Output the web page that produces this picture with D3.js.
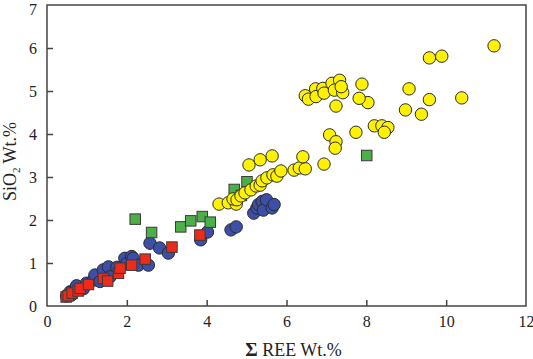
<!DOCTYPE html>
<html>
<head>
<meta charset="utf-8">
<script src="https://cdn.jsdelivr.net/npm/d3@7"></script>
<style>
  body { margin: 0; background: #fff; }
  svg { display: block; font-family: 'Liberation Serif', 'Times New Roman', serif; }
</style>
</head>
<body>
<div id="chart"></div>
<script>
// sum REE (x) vs SiO2 (y)
const blueX = [0.49, 0.58, 0.62, 0.66, 0.74, 0.91, 0.99, 1.16, 1.2, 1.33, 1.41, 1.54, 1.58, 1.75, 1.95, 2.0, 2.12, 2.16, 2.29, 2.54, 2.58, 2.82, 3.04, 3.85, 4.02, 4.61, 4.74, 5.18, 5.26, 5.3, 5.39, 5.42, 5.5, 5.64, 5.69]
const blueY = [0.23, 0.33, 0.26, 0.33, 0.47, 0.4, 0.53, 0.6, 0.72, 0.57, 0.84, 0.91, 0.68, 0.9, 1.11, 0.99, 1.15, 1.11, 0.95, 0.95, 1.46, 1.35, 1.23, 1.54, 1.72, 1.77, 1.84, 2.16, 2.28, 2.36, 2.43, 2.23, 2.47, 2.28, 2.36]

const greenX = [2.21, 2.62, 3.35, 3.6, 3.89, 4.09, 4.69, 5.01, 4.87, 8.01]
const greenY = [2.02, 1.71, 1.84, 1.98, 2.08, 1.95, 2.71, 2.89, 2.57, 3.5]

const yellowX = [4.31, 4.54, 4.74, 4.66, 4.76, 4.86, 4.96, 5.11, 5.24, 5.34, 5.39, 5.51, 5.66, 5.76, 5.86, 5.06, 5.34, 5.64, 6.19, 6.32, 6.47, 6.41, 6.94,
  7.08, 7.24, 7.22, 7.74, 8.2, 8.39, 8.54, 8.45, 8.04, 7.82, 7.89, 7.24,
  6.47, 6.55, 6.73, 6.74, 6.91, 6.94, 7.14, 7.33, 7.2, 7.41, 7.37,
  8.98, 9.07, 9.38, 9.58, 10.39, 9.58, 9.89, 11.2]
const yellowY = [2.37, 2.4, 2.37, 2.49, 2.47, 2.56, 2.63, 2.7, 2.79, 2.81, 2.91, 2.98, 3.05, 3.02, 3.14, 3.28, 3.4, 3.49, 3.16, 3.21, 3.19, 3.47, 3.3,
  3.98, 3.82, 3.67, 4.04, 4.19, 4.19, 4.15, 4.04, 4.73, 4.83, 5.16, 4.65,
  4.89, 4.81, 5.05, 4.87, 5.06, 4.95, 5.18, 5.25, 5.02, 4.96, 5.1,
  4.56, 5.05, 4.46, 4.8, 4.84, 5.77, 5.81, 6.05]

const redX = [0.48, 0.53, 0.63, 0.78, 0.83, 1.04, 1.41, 1.52, 1.79, 1.83, 2.12, 2.46, 3.13, 3.83]
const redY = [0.21, 0.24, 0.3, 0.35, 0.41, 0.5, 0.64, 0.58, 0.76, 0.88, 0.95, 1.09, 1.37, 1.65]

const xTicks = [0, 2, 4, 6, 8, 10, 12]
const yTicks = [0, 1, 2, 3, 4, 5, 6, 7]

const width = 533
const height = 359
const margin = { top: 5, right: 7, bottom: 53, left: 47 }

const x = d3.scaleLinear().domain([0, 12]).range([margin.left, width - margin.right])
const y = d3.scaleLinear().domain([0, 7]).range([height - margin.bottom, margin.top])

const svg = d3
  .select('#chart')
  .append('svg')
  .attr('width', width)
  .attr('height', height)

const pts = (xs, ys) => xs.map((v, i) => ({ x: v, y: ys[i] }))

const drawCircles = (data, fill) => {
  svg
    .append('g')
    .selectAll('circle')
    .data(data)
    .join('circle')
    .attr('cx', (d) => x(d.x))
    .attr('cy', (d) => y(d.y))
    .attr('r', 6.2)
    .attr('fill', fill)
    .attr('stroke', '#2b2b2b')
    .attr('stroke-width', 1)
}

const drawSquares = (data, fill) => {
  const s = 10.5
  svg
    .append('g')
    .selectAll('rect')
    .data(data)
    .join('rect')
    .attr('x', (d) => x(d.x) - s / 2)
    .attr('y', (d) => y(d.y) - s / 2)
    .attr('width', s)
    .attr('height', s)
    .attr('fill', fill)
    .attr('stroke', '#3a3a3a')
    .attr('stroke-width', 1)
}

drawCircles(pts(blueX, blueY), '#3d4ea6')
drawSquares(pts(greenX, greenY), '#4caf47')
drawCircles(pts(yellowX, yellowY), '#fff200')
drawSquares(pts(redX, redY), '#ee2a1b')

// frame
svg
  .append('rect')
  .attr('x', x(0))
  .attr('y', y(7))
  .attr('width', x(12) - x(0))
  .attr('height', y(0) - y(7))
  .attr('fill', 'none')
  .attr('stroke', '#444')
  .attr('stroke-width', 1.5)

// inward ticks
const axisX = d3.axisBottom(x).tickValues(xTicks).tickSize(-6).tickPadding(10).tickFormat(d3.format('d'))
const axisY = d3.axisLeft(y).tickValues(yTicks).tickSize(-6).tickPadding(10).tickFormat(d3.format('d'))

const gx = svg.append('g').attr('transform', `translate(0,${y(0)})`).call(axisX)
const gy = svg.append('g').attr('transform', `translate(${x(0)},0)`).call(axisY)

;[gx, gy].forEach((g) => {
  g.select('.domain').remove()
  g.selectAll('line').attr('stroke', '#444').attr('stroke-width', 1.5)
  g.selectAll('text')
    .attr('fill', '#222')
    .style('font-family', "'Liberation Serif', 'Times New Roman', serif")
    .style('font-size', '16px')
})
// no tick marks on the corners
gx.selectAll('.tick').filter((d) => d === 0 || d === 12).select('line').remove()
gy.selectAll('.tick').filter((d) => d === 0 || d === 7).select('line').remove()
// top label sits a little lower so it is not clipped
gy.selectAll('.tick').filter((d) => d === 7).select('text').attr('y', 4)

// axis titles
const xl = svg
  .append('text')
  .attr('x', (x(0) + x(12)) / 2 + 7)
  .attr('y', 356)
  .attr('text-anchor', 'middle')
  .attr('fill', '#222')
  .style('font-size', '18px')
xl.append('tspan').style('font-weight', 'bold').style('font-size', '19px').text('Σ')
xl.append('tspan').text(' REE Wt.%')

const yl = svg
  .append('text')
  .attr('transform', `translate(16,${(y(0) + y(7)) / 2 + 6}) rotate(-90)`)
  .attr('text-anchor', 'middle')
  .attr('fill', '#222')
  .style('font-size', '18px')
yl.append('tspan').text('SiO')
yl.append('tspan').attr('dy', 4).style('font-size', '11px').text('2')
yl.append('tspan').attr('dy', -4).text(' Wt.%')
</script>
</body>
</html>
